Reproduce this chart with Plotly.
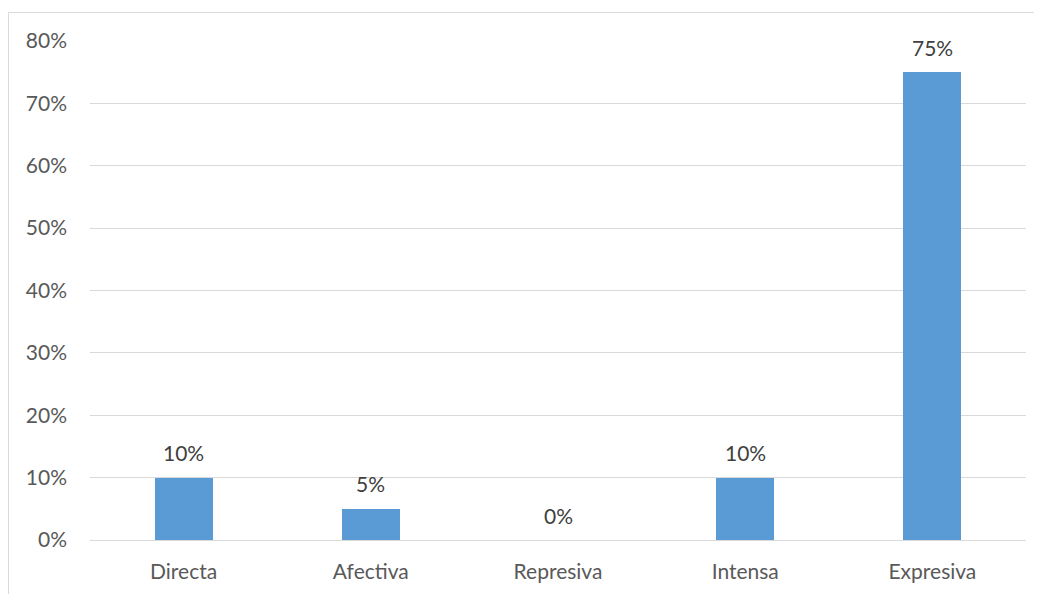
import plotly.graph_objects as go

categories = ["Directa", "Afectiva", "Represiva", "Intensa", "Expresiva"]
values = [0.10, 0.05, 0.00, 0.10, 0.75]
labels = ["10%", "5%", "0%", "10%", "75%"]
y_ticks = [0, 0.1, 0.2, 0.3, 0.4, 0.5, 0.6, 0.7, 0.8]
y_tick_text = ["0%", "10%", "20%", "30%", "40%", "50%", "60%", "70%", "80%"]

FONT = "Lato, Calibri, 'Open Sans', sans-serif"
FS = 21

fig = go.Figure()
fig.add_trace(go.Bar(
    x=categories, y=values, width=0.31,
    marker=dict(color="#5b9bd5", line=dict(width=0)),
    hoverinfo="skip",
))

for c, v, t in zip(categories, values, labels):
    fig.add_annotation(x=c, y=v, text=t, showarrow=False, yshift=25,
                       font=dict(family=FONT, size=FS, color="#404040"))

# page body has an 8px margin, so the figure is drawn at (8, 8)
W, H = 1034, 586
L, T = 82, 33
pw, ph = 936, 499
R, B = W - L - pw, H - T - ph
# outer chart border
fig.add_shape(type="rect", xref="paper", yref="paper",
              x0=(0.5 - L) / pw, x1=(W + 5 - L) / pw,
              y0=(-5 - B) / ph, y1=(H - 4.5 - B) / ph,
              line=dict(color="#d9d9d9", width=1), layer="below")

fig.update_layout(
    width=W, height=H,
    margin=dict(l=L, r=R, t=T, b=B),
    paper_bgcolor="white", plot_bgcolor="white",
    showlegend=False,
    font=dict(family=FONT, size=FS, color="#595959"),
    bargap=0,
)
fig.update_xaxes(showgrid=False, showline=False, ticks="", zeroline=False,
                 ticklabelstandoff=17, tickfont=dict(size=FS, color="#595959"))
fig.update_yaxes(range=[0, 0.8], tickvals=y_ticks, ticktext=y_tick_text,
                 showgrid=True, gridcolor="#d9d9d9", gridwidth=1,
                 zeroline=True, zerolinecolor="#d9d9d9", zerolinewidth=1,
                 showline=False, ticks="", ticklabelstandoff=22,
                 tickfont=dict(size=FS, color="#595959"))

fig.write_html("out.html")
